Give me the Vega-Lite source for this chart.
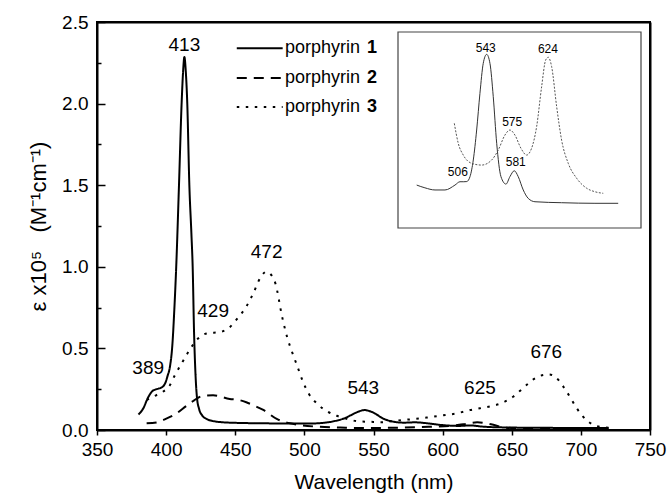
{
  "$schema": "https://vega.github.io/schema/vega-lite/v6.json",
  "width": 553,
  "height": 408,
  "autosize": {"type": "none"},
  "padding": {"left": 97, "top": 22, "right": 18, "bottom": 68},
  "config": {
    "font": "Liberation Sans",
    "view": {"stroke": "black", "strokeWidth": 2},
    "axis": {
      "grid": false,
      "domainColor": "black",
      "domainWidth": 2,
      "tickColor": "black",
      "tickWidth": 1.5,
      "labelColor": "black",
      "labelFontSize": 19,
      "labelFont": "Liberation Sans",
      "titleColor": "black",
      "titleFontSize": 21,
      "titleFontWeight": "normal",
      "titleFont": "Liberation Sans"
    }
  },
  "datasets": {
    "one": [{}],
    "spectra": [
      {"series": "porphyrin 1", "nm": 380, "eps": 0.095},
      {"series": "porphyrin 1", "nm": 383.5, "eps": 0.133},
      {"series": "porphyrin 1", "nm": 387, "eps": 0.2},
      {"series": "porphyrin 1", "nm": 390, "eps": 0.238},
      {"series": "porphyrin 1", "nm": 393, "eps": 0.25},
      {"series": "porphyrin 1", "nm": 397, "eps": 0.262},
      {"series": "porphyrin 1", "nm": 399.5, "eps": 0.29},
      {"series": "porphyrin 1", "nm": 401, "eps": 0.33},
      {"series": "porphyrin 1", "nm": 402.8, "eps": 0.39},
      {"series": "porphyrin 1", "nm": 404.5, "eps": 0.52},
      {"series": "porphyrin 1", "nm": 406, "eps": 0.75},
      {"series": "porphyrin 1", "nm": 407.3, "eps": 1.0},
      {"series": "porphyrin 1", "nm": 409.3, "eps": 1.5},
      {"series": "porphyrin 1", "nm": 411.2, "eps": 2.0},
      {"series": "porphyrin 1", "nm": 412.3, "eps": 2.2},
      {"series": "porphyrin 1", "nm": 413.2, "eps": 2.285},
      {"series": "porphyrin 1", "nm": 414.2, "eps": 2.2},
      {"series": "porphyrin 1", "nm": 415.3, "eps": 2.0},
      {"series": "porphyrin 1", "nm": 416.8, "eps": 1.5},
      {"series": "porphyrin 1", "nm": 418.3, "eps": 1.2},
      {"series": "porphyrin 1", "nm": 419.2, "eps": 1.0},
      {"series": "porphyrin 1", "nm": 420.2, "eps": 0.6},
      {"series": "porphyrin 1", "nm": 421.2, "eps": 0.35},
      {"series": "porphyrin 1", "nm": 422.3, "eps": 0.2},
      {"series": "porphyrin 1", "nm": 423.8, "eps": 0.13},
      {"series": "porphyrin 1", "nm": 426, "eps": 0.09},
      {"series": "porphyrin 1", "nm": 430, "eps": 0.065},
      {"series": "porphyrin 1", "nm": 435, "eps": 0.053},
      {"series": "porphyrin 1", "nm": 440, "eps": 0.048},
      {"series": "porphyrin 1", "nm": 450, "eps": 0.044},
      {"series": "porphyrin 1", "nm": 470, "eps": 0.041},
      {"series": "porphyrin 1", "nm": 490, "eps": 0.04},
      {"series": "porphyrin 1", "nm": 505, "eps": 0.04},
      {"series": "porphyrin 1", "nm": 515, "eps": 0.045},
      {"series": "porphyrin 1", "nm": 522, "eps": 0.055},
      {"series": "porphyrin 1", "nm": 530, "eps": 0.075},
      {"series": "porphyrin 1", "nm": 537, "eps": 0.105},
      {"series": "porphyrin 1", "nm": 543.5, "eps": 0.122},
      {"series": "porphyrin 1", "nm": 550, "eps": 0.106},
      {"series": "porphyrin 1", "nm": 557, "eps": 0.07},
      {"series": "porphyrin 1", "nm": 565, "eps": 0.05},
      {"series": "porphyrin 1", "nm": 572, "eps": 0.045},
      {"series": "porphyrin 1", "nm": 580, "eps": 0.047},
      {"series": "porphyrin 1", "nm": 590, "eps": 0.04},
      {"series": "porphyrin 1", "nm": 600, "eps": 0.03},
      {"series": "porphyrin 1", "nm": 612, "eps": 0.025},
      {"series": "porphyrin 1", "nm": 620, "eps": 0.028},
      {"series": "porphyrin 1", "nm": 630, "eps": 0.02},
      {"series": "porphyrin 1", "nm": 650, "eps": 0.015},
      {"series": "porphyrin 1", "nm": 680, "eps": 0.013},
      {"series": "porphyrin 1", "nm": 720, "eps": 0.012},

      {"series": "porphyrin 2", "nm": 385.9, "eps": 0.041},
      {"series": "porphyrin 2", "nm": 393, "eps": 0.046},
      {"series": "porphyrin 2", "nm": 399, "eps": 0.065},
      {"series": "porphyrin 2", "nm": 407.6, "eps": 0.102},
      {"series": "porphyrin 2", "nm": 415, "eps": 0.15},
      {"series": "porphyrin 2", "nm": 420, "eps": 0.18},
      {"series": "porphyrin 2", "nm": 425.7, "eps": 0.207},
      {"series": "porphyrin 2", "nm": 434, "eps": 0.213},
      {"series": "porphyrin 2", "nm": 446, "eps": 0.19},
      {"series": "porphyrin 2", "nm": 452, "eps": 0.185},
      {"series": "porphyrin 2", "nm": 458, "eps": 0.17},
      {"series": "porphyrin 2", "nm": 464.3, "eps": 0.147},
      {"series": "porphyrin 2", "nm": 470.3, "eps": 0.123},
      {"series": "porphyrin 2", "nm": 480, "eps": 0.068},
      {"series": "porphyrin 2", "nm": 489.6, "eps": 0.041},
      {"series": "porphyrin 2", "nm": 497, "eps": 0.03},
      {"series": "porphyrin 2", "nm": 510, "eps": 0.02},
      {"series": "porphyrin 2", "nm": 530, "eps": 0.014},
      {"series": "porphyrin 2", "nm": 550, "eps": 0.012},
      {"series": "porphyrin 2", "nm": 570, "eps": 0.015},
      {"series": "porphyrin 2", "nm": 590, "eps": 0.02},
      {"series": "porphyrin 2", "nm": 605, "eps": 0.025},
      {"series": "porphyrin 2", "nm": 615, "eps": 0.035},
      {"series": "porphyrin 2", "nm": 625, "eps": 0.047},
      {"series": "porphyrin 2", "nm": 635, "eps": 0.035},
      {"series": "porphyrin 2", "nm": 645, "eps": 0.015},
      {"series": "porphyrin 2", "nm": 660, "eps": 0.01},
      {"series": "porphyrin 2", "nm": 690, "eps": 0.008},
      {"series": "porphyrin 2", "nm": 720, "eps": 0.007},

      {"series": "porphyrin 3", "nm": 386, "eps": 0.185},
      {"series": "porphyrin 3", "nm": 393, "eps": 0.214},
      {"series": "porphyrin 3", "nm": 402.8, "eps": 0.276},
      {"series": "porphyrin 3", "nm": 406.4, "eps": 0.337},
      {"series": "porphyrin 3", "nm": 411.2, "eps": 0.408},
      {"series": "porphyrin 3", "nm": 416.5, "eps": 0.484},
      {"series": "porphyrin 3", "nm": 422, "eps": 0.551},
      {"series": "porphyrin 3", "nm": 427, "eps": 0.585},
      {"series": "porphyrin 3", "nm": 432, "eps": 0.595},
      {"series": "porphyrin 3", "nm": 437, "eps": 0.598},
      {"series": "porphyrin 3", "nm": 445, "eps": 0.623},
      {"series": "porphyrin 3", "nm": 452, "eps": 0.688},
      {"series": "porphyrin 3", "nm": 458, "eps": 0.756},
      {"series": "porphyrin 3", "nm": 463, "eps": 0.837},
      {"series": "porphyrin 3", "nm": 468, "eps": 0.93},
      {"series": "porphyrin 3", "nm": 472.5, "eps": 0.97},
      {"series": "porphyrin 3", "nm": 476, "eps": 0.95},
      {"series": "porphyrin 3", "nm": 479, "eps": 0.899},
      {"series": "porphyrin 3", "nm": 484, "eps": 0.69},
      {"series": "porphyrin 3", "nm": 487.5, "eps": 0.57},
      {"series": "porphyrin 3", "nm": 491, "eps": 0.48},
      {"series": "porphyrin 3", "nm": 494.5, "eps": 0.4},
      {"series": "porphyrin 3", "nm": 499, "eps": 0.296},
      {"series": "porphyrin 3", "nm": 503, "eps": 0.225},
      {"series": "porphyrin 3", "nm": 509, "eps": 0.163},
      {"series": "porphyrin 3", "nm": 517, "eps": 0.112},
      {"series": "porphyrin 3", "nm": 523.4, "eps": 0.087},
      {"series": "porphyrin 3", "nm": 530, "eps": 0.07},
      {"series": "porphyrin 3", "nm": 539, "eps": 0.053},
      {"series": "porphyrin 3", "nm": 548, "eps": 0.05},
      {"series": "porphyrin 3", "nm": 556, "eps": 0.048},
      {"series": "porphyrin 3", "nm": 566.8, "eps": 0.058},
      {"series": "porphyrin 3", "nm": 578.8, "eps": 0.067},
      {"series": "porphyrin 3", "nm": 588.5, "eps": 0.076},
      {"series": "porphyrin 3", "nm": 600.5, "eps": 0.09},
      {"series": "porphyrin 3", "nm": 610.2, "eps": 0.102},
      {"series": "porphyrin 3", "nm": 619.8, "eps": 0.122},
      {"series": "porphyrin 3", "nm": 627, "eps": 0.133},
      {"series": "porphyrin 3", "nm": 634.3, "eps": 0.145},
      {"series": "porphyrin 3", "nm": 642.7, "eps": 0.165},
      {"series": "porphyrin 3", "nm": 651, "eps": 0.204},
      {"series": "porphyrin 3", "nm": 658, "eps": 0.255},
      {"series": "porphyrin 3", "nm": 665.6, "eps": 0.31},
      {"series": "porphyrin 3", "nm": 672.9, "eps": 0.337},
      {"series": "porphyrin 3", "nm": 677, "eps": 0.34},
      {"series": "porphyrin 3", "nm": 681.3, "eps": 0.327},
      {"series": "porphyrin 3", "nm": 687.3, "eps": 0.266},
      {"series": "porphyrin 3", "nm": 692, "eps": 0.204},
      {"series": "porphyrin 3", "nm": 697, "eps": 0.133},
      {"series": "porphyrin 3", "nm": 705.4, "eps": 0.051},
      {"series": "porphyrin 3", "nm": 711.4, "eps": 0.024},
      {"series": "porphyrin 3", "nm": 720, "eps": 0.014}
    ],
    "peaks": [
      {"label": "413", "nm": 413.2, "eps": 2.36},
      {"label": "389", "nm": 387, "eps": 0.382},
      {"label": "429", "nm": 434, "eps": 0.731},
      {"label": "472", "nm": 472.7, "eps": 1.093},
      {"label": "543", "nm": 542.6, "eps": 0.255},
      {"label": "625", "nm": 627, "eps": 0.255},
      {"label": "676", "nm": 675, "eps": 0.48}
    ],
    "inset": [
      {"curve": "solid", "nm": 449, "a": 0.219},
      {"curve": "solid", "nm": 460, "a": 0.205},
      {"curve": "solid", "nm": 473.5, "a": 0.194},
      {"curve": "solid", "nm": 486.8, "a": 0.194},
      {"curve": "solid", "nm": 500.2, "a": 0.219},
      {"curve": "solid", "nm": 506.9, "a": 0.236},
      {"curve": "solid", "nm": 512, "a": 0.236},
      {"curve": "solid", "nm": 516, "a": 0.237},
      {"curve": "solid", "nm": 520.3, "a": 0.262},
      {"curve": "solid", "nm": 524.7, "a": 0.347},
      {"curve": "solid", "nm": 529.2, "a": 0.5},
      {"curve": "solid", "nm": 533.6, "a": 0.687},
      {"curve": "solid", "nm": 538, "a": 0.84},
      {"curve": "solid", "nm": 542.6, "a": 0.886},
      {"curve": "solid", "nm": 547, "a": 0.84},
      {"curve": "solid", "nm": 551.4, "a": 0.67},
      {"curve": "solid", "nm": 556, "a": 0.432},
      {"curve": "solid", "nm": 561.7, "a": 0.262},
      {"curve": "solid", "nm": 568.4, "a": 0.224},
      {"curve": "solid", "nm": 573.7, "a": 0.262},
      {"curve": "solid", "nm": 579.5, "a": 0.292},
      {"curve": "solid", "nm": 584.8, "a": 0.262},
      {"curve": "solid", "nm": 591.5, "a": 0.194},
      {"curve": "solid", "nm": 598.2, "a": 0.151},
      {"curve": "solid", "nm": 607.2, "a": 0.134},
      {"curve": "solid", "nm": 642.8, "a": 0.129},
      {"curve": "solid", "nm": 687.4, "a": 0.126},
      {"curve": "solid", "nm": 718.5, "a": 0.126},
      {"curve": "dotted", "nm": 499.3, "a": 0.534},
      {"curve": "dotted", "nm": 504.6, "a": 0.432},
      {"curve": "dotted", "nm": 511.3, "a": 0.372},
      {"curve": "dotted", "nm": 522.5, "a": 0.33},
      {"curve": "dotted", "nm": 535.9, "a": 0.321},
      {"curve": "dotted", "nm": 549.3, "a": 0.347},
      {"curve": "dotted", "nm": 558.1, "a": 0.398},
      {"curve": "dotted", "nm": 567, "a": 0.474},
      {"curve": "dotted", "nm": 573.7, "a": 0.5},
      {"curve": "dotted", "nm": 580.4, "a": 0.474},
      {"curve": "dotted", "nm": 588.4, "a": 0.407},
      {"curve": "dotted", "nm": 596, "a": 0.372},
      {"curve": "dotted", "nm": 602.7, "a": 0.407},
      {"curve": "dotted", "nm": 609.4, "a": 0.517},
      {"curve": "dotted", "nm": 616.1, "a": 0.721},
      {"curve": "dotted", "nm": 621.5, "a": 0.857},
      {"curve": "dotted", "nm": 625, "a": 0.871},
      {"curve": "dotted", "nm": 629.5, "a": 0.823},
      {"curve": "dotted", "nm": 636.2, "a": 0.619},
      {"curve": "dotted", "nm": 642.8, "a": 0.449},
      {"curve": "dotted", "nm": 651.7, "a": 0.33},
      {"curve": "dotted", "nm": 662.9, "a": 0.254},
      {"curve": "dotted", "nm": 676.3, "a": 0.203},
      {"curve": "dotted", "nm": 687.4, "a": 0.185},
      {"curve": "dotted", "nm": 698.5, "a": 0.177}
    ],
    "insetPeaks": [
      {"label": "543", "nm": 541.4, "a": 0.92},
      {"label": "624", "nm": 624.5, "a": 0.912},
      {"label": "575", "nm": 576.7, "a": 0.539},
      {"label": "581", "nm": 581.5, "a": 0.335},
      {"label": "506", "nm": 504, "a": 0.284}
    ]
  },
  "layer": [
    {
      "layer": [
        {
          "layer": [
            {
              "data": {"name": "spectra"},
              "mark": {"type": "line", "interpolate": "monotone", "strokeWidth": 2, "color": "black"},
              "encoding": {
                "x": {
                  "field": "nm", "type": "quantitative",
                  "scale": {"domain": [350, 750], "nice": false, "zero": false},
                  "axis": {
                    "values": [350, 375, 400, 425, 450, 475, 500, 525, 550, 575, 600, 625, 650, 675, 700, 725, 750],
                    "format": "d",
                    "labelExpr": "datum.value % 50 === 0 ? datum.label : ''",
                    "tickSize": 5,
                    "labelPadding": 5,
                    "labelFlush": false,
                    "labelOverlap": false,
                    "title": "Wavelength (nm)",
                    "titlePadding": 12
                  }
                },
                "y": {
                  "field": "eps", "type": "quantitative",
                  "scale": {"domain": [0, 2.5], "nice": false},
                  "axis": {
                    "values": [0, 0.25, 0.5, 0.75, 1, 1.25, 1.5, 1.75, 2, 2.25, 2.5],
                    "labelExpr": "datum.value % 0.5 === 0 ? format(datum.value, '.1f') : ''",
                    "tickSize": {"condition": {"test": "datum.value % 0.5 === 0", "value": -8}, "value": -4},
                    "labelPadding": 17,
                    "labelOverlap": false,
                    "title": "ε x10⁵\u00a0\u00a0\u00a0(M⁻¹cm⁻¹)",
                    "titleFontSize": 22,
                    "titleX": -52,
                    "titleBaseline": "alphabetic"
                  }
                },
                "strokeDash": {
                  "field": "series", "type": "nominal",
                  "scale": {"domain": ["porphyrin 1", "porphyrin 2", "porphyrin 3"], "range": [[1, 0], [10, 7], [2.5, 6.5]]},
                  "legend": null
                }
              }
            },
            {
              "data": {"name": "peaks"},
              "mark": {"type": "text", "fontSize": 19, "align": "center", "baseline": "middle", "color": "black"},
              "encoding": {
                "x": {"field": "nm", "type": "quantitative"},
                "y": {"field": "eps", "type": "quantitative"},
                "text": {"field": "label"}
              }
            },
            {
              "data": {"name": "one"},
              "mark": {"type": "rule", "strokeWidth": 2, "color": "black"},
              "encoding": {
                "x": {"datum": 451.1, "type": "quantitative"},
                "x2": {"datum": 484.3},
                "y": {"datum": 2.339, "type": "quantitative"},
                "strokeDash": {"datum": "porphyrin 1", "type": "nominal"}
              }
            },
            {
              "data": {"name": "one"},
              "mark": {"type": "rule", "strokeWidth": 2, "color": "black"},
              "encoding": {
                "x": {"datum": 451.1, "type": "quantitative"},
                "x2": {"datum": 484.3},
                "y": {"datum": 2.157, "type": "quantitative"},
                "strokeDash": {"datum": "porphyrin 2", "type": "nominal"}
              }
            },
            {
              "data": {"name": "one"},
              "mark": {"type": "rule", "strokeWidth": 2, "color": "black"},
              "encoding": {
                "x": {"datum": 451.1, "type": "quantitative"},
                "x2": {"datum": 484.3},
                "y": {"datum": 1.979, "type": "quantitative"},
                "strokeDash": {"datum": "porphyrin 3", "type": "nominal"}
              }
            },
            {
              "data": {"name": "one"},
              "mark": {"type": "text", "text": "porphyrin", "fontSize": 18, "align": "left", "baseline": "middle", "color": "black"},
              "encoding": {"x": {"datum": 486, "type": "quantitative"}, "y": {"datum": 2.339, "type": "quantitative"}}
            },
            {
              "data": {"name": "one"},
              "mark": {"type": "text", "text": "porphyrin", "fontSize": 18, "align": "left", "baseline": "middle", "color": "black"},
              "encoding": {"x": {"datum": 486, "type": "quantitative"}, "y": {"datum": 2.157, "type": "quantitative"}}
            },
            {
              "data": {"name": "one"},
              "mark": {"type": "text", "text": "porphyrin", "fontSize": 18, "align": "left", "baseline": "middle", "color": "black"},
              "encoding": {"x": {"datum": 486, "type": "quantitative"}, "y": {"datum": 1.979, "type": "quantitative"}}
            },
            {
              "data": {"name": "one"},
              "mark": {"type": "text", "text": "1", "fontSize": 18, "fontWeight": "bold", "align": "left", "baseline": "middle", "color": "black"},
              "encoding": {"x": {"datum": 545.3, "type": "quantitative"}, "y": {"datum": 2.339, "type": "quantitative"}}
            },
            {
              "data": {"name": "one"},
              "mark": {"type": "text", "text": "2", "fontSize": 18, "fontWeight": "bold", "align": "left", "baseline": "middle", "color": "black"},
              "encoding": {"x": {"datum": 545.3, "type": "quantitative"}, "y": {"datum": 2.157, "type": "quantitative"}}
            },
            {
              "data": {"name": "one"},
              "mark": {"type": "text", "text": "3", "fontSize": 18, "fontWeight": "bold", "align": "left", "baseline": "middle", "color": "black"},
              "encoding": {"x": {"datum": 545.3, "type": "quantitative"}, "y": {"datum": 1.979, "type": "quantitative"}}
            }
          ]
        },
        {
          "data": {"name": "one"},
          "mark": {"type": "point", "opacity": 0},
          "encoding": {
            "x": {"datum": 350, "type": "quantitative", "axis": {"orient": "top", "labels": false, "ticks": false, "title": null, "domainWidth": 2, "domainColor": "black"}},
            "y": {"datum": 0, "type": "quantitative", "axis": {"orient": "right", "labels": false, "ticks": false, "title": null, "domainWidth": 2, "domainColor": "black"}}
          }
        }
      ],
      "resolve": {"axis": {"x": "independent", "y": "independent"}}
    },
    {
      "layer": [
        {
          "data": {"name": "one"},
          "mark": {"type": "rect", "fill": "white", "stroke": "#444444", "strokeWidth": 1.2},
          "encoding": {
            "x": {"datum": 424, "type": "quantitative", "scale": {"domain": [424, 749], "range": [301, 544], "nice": false, "zero": false}, "axis": null},
            "x2": {"datum": 749},
            "y": {"datum": 0, "type": "quantitative", "scale": {"domain": [0, 1], "range": [206, 10], "nice": false, "zero": false}, "axis": null},
            "y2": {"datum": 1}
          }
        },
        {
          "data": {"name": "inset"},
          "transform": [{"filter": "datum.curve === 'solid'"}],
          "mark": {"type": "line", "interpolate": "monotone", "strokeWidth": 1, "color": "#333333"},
          "encoding": {
            "x": {"field": "nm", "type": "quantitative", "axis": null},
            "y": {"field": "a", "type": "quantitative", "axis": null}
          }
        },
        {
          "data": {"name": "inset"},
          "transform": [{"filter": "datum.curve === 'dotted'"}],
          "mark": {"type": "line", "interpolate": "monotone", "strokeWidth": 1, "color": "#555555", "strokeDash": [2, 1.5]},
          "encoding": {
            "x": {"field": "nm", "type": "quantitative", "axis": null},
            "y": {"field": "a", "type": "quantitative", "axis": null}
          }
        },
        {
          "data": {"name": "insetPeaks"},
          "mark": {"type": "text", "fontSize": 12, "align": "center", "baseline": "middle", "color": "black"},
          "encoding": {
            "x": {"field": "nm", "type": "quantitative", "axis": null},
            "y": {"field": "a", "type": "quantitative", "axis": null},
            "text": {"field": "label"}
          }
        }
      ]
    }
  ],
  "resolve": {"scale": {"x": "independent", "y": "independent"}}
}
